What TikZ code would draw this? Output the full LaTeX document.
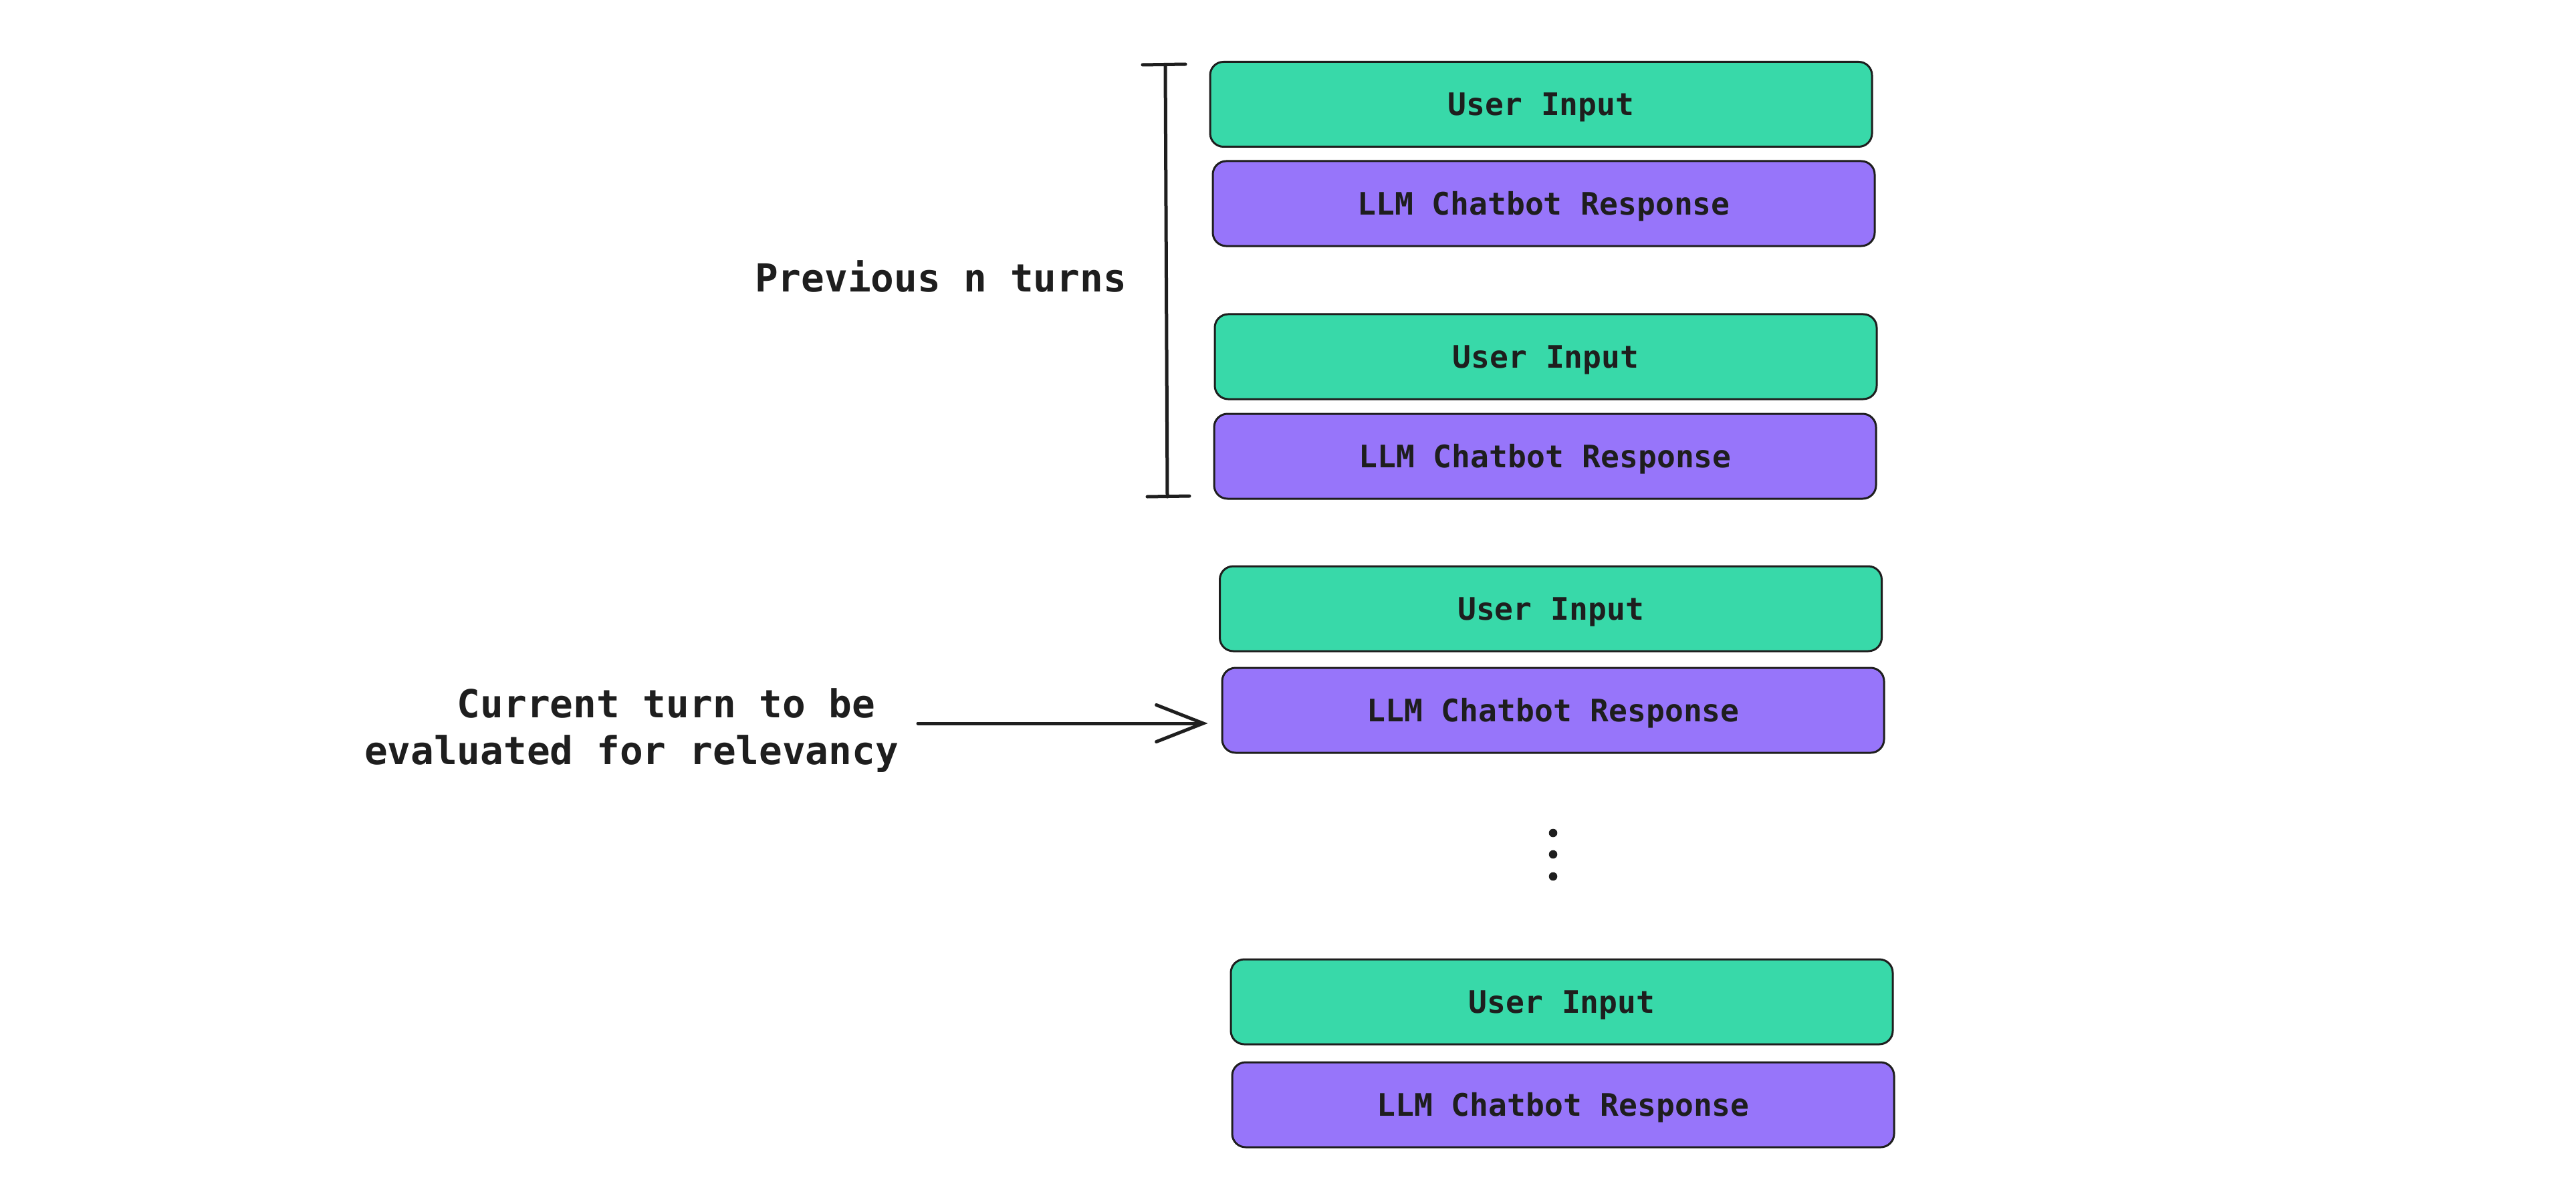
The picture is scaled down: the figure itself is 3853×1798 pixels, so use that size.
\documentclass[tikz,border=0pt]{standalone}
\usepackage{fontspec}
\setmonofont{DejaVu Sans Mono}
\usetikzlibrary{arrows.meta}
\definecolor{uigreen}{HTML}{38D9A9}
\definecolor{llmpurple}{HTML}{9775FA}
\definecolor{ink}{HTML}{1E1E1E}
\tikzset{
  turnbox/.style={draw=ink, line width=0.6pt, rounded corners=4pt,
    minimum width=198pt, minimum height=25.4pt, inner sep=0pt,
    text height=8pt, text depth=1.2pt,
    font=\ttfamily\bfseries\fontsize{9.26pt}{11pt}\selectfont, text=ink},
  userbox/.style={turnbox, fill=uigreen},
  llmbox/.style={turnbox, fill=llmpurple},
  sidelabel/.style={inner sep=0pt, text=ink,
    font=\ttfamily\bfseries\fontsize{11.54pt}{14pt}\selectfont},
  penline/.style={draw=ink, line width=1pt, line cap=round}
}
\begin{document}
\begin{tikzpicture}[x=0.2pt,y=-0.2pt]
\useasboundingbox[fill=white] (0,0) rectangle (3853,1798);
% boxes
\node[userbox] (u1) at (2305,156) {User Input};
\node[llmbox]  (r1) at (2309,304.5) {LLM Chatbot Response};
\node[userbox] (u2) at (2312,533.5) {User Input};
\node[llmbox]  (r2) at (2311,682.5) {LLM Chatbot Response};
\node[userbox] (u3) at (2319.5,910.5) {User Input};
\node[llmbox]  (r3) at (2323,1062.5) {LLM Chatbot Response};
\node[userbox] (u4) at (2336,1498.5) {User Input};
\node[llmbox]  (r4) at (2338,1652.5) {LLM Chatbot Response};
% bracket
\coordinate (btop) at (1743,97);
\coordinate (bbot) at (1746,743);
\draw[penline] (1709,97) -- (1773,96);
\draw[penline] (btop) -- (bbot);
\draw[penline] (1716,743) -- (1779,742);
\node[sidelabel, anchor=base] (prev) at (1407,436) {Previous n turns};
% current turn label and arrow
\node[sidelabel, anchor=base east, align=right] (cur) at (1345,1143)
  {Current turn to be\hphantom{x}\\evaluated for relevancy};
\coordinate (astart) at (1373,1082);
\draw[penline, -{Straight Barb[length=14pt,width=11pt,line cap=round]}]
  (astart) -- (astart -| r3.west) [shorten >=4pt];
% ellipsis dots
\fill[ink] (2323,1246) circle[radius=1.26pt];
\fill[ink] (2323,1278) circle[radius=1.26pt];
\fill[ink] (2323,1311) circle[radius=1.26pt];
\end{tikzpicture}
\end{document}
